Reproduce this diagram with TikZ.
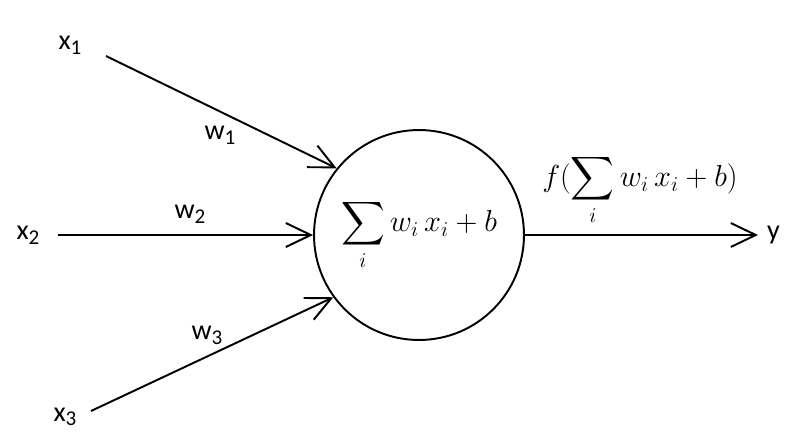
\documentclass[tikz,border=0pt]{standalone}
\usepackage{amsmath}
\usepackage{exscale}
\usepackage[no-math]{fontspec}
\setmainfont{Carlito}
\usetikzlibrary{arrows.meta, positioning}
\newcommand{\lblsub}[1]{\raisebox{-0.35ex}{\fontsize{12}{14}\selectfont #1}}
\tikzset{
  % neuron and labels
  neuron/.style={circle,draw,line width=1.1pt,minimum size=4.2cm,inner sep=0pt,font=\fontsize{17}{20}\selectfont},
  label in/.style={font=\fontsize{16}{19}\selectfont,inner sep=1pt},
  label w/.style={label in},
  label out/.style={font=\fontsize{17}{20}\selectfont,inner sep=0pt},
  % connections
  connect arrow/.style={-{Straight Barb[length=5mm,width=4.8mm]},line width=1.1pt}
}
\begin{document}
\begin{tikzpicture}[x=0.02cm,y=-0.02cm]
    \useasboundingbox (0,0) rectangle (812,440);
    \node[neuron] (neuron) at (419,235) {$\displaystyle\sum_i w_i\,x_i+b$};
    % inputs
    \node[label in] (x1) at (70,45) {x\lblsub{1}};
    \node[label in] (x2) at (28,235) {x\lblsub{2}};
    \node[label in] (x3) at (65,417) {x\lblsub{3}};
    \coordinate (in1) at (106,56);
    \coordinate (in2) at (58,235);
    \coordinate (in3) at (91,411);
    \draw[connect arrow] (in1) -- (neuron.141);
    \draw[connect arrow] (in2) -- (neuron);
    \draw[connect arrow] (in3) -- (neuron.216);
    \node[label w] (w1) at (220,135) {w\lblsub{1}};
    \node[label w] (w2) at (190,214) {w\lblsub{2}};
    \node[label w] (w3) at (207,335) {w\lblsub{3}};
    % output
    \node[label in,anchor=west,inner sep=5pt] (y) at (758,235) {y};
    \draw[connect arrow] (neuron) -- (y);
    \node[label out] (f) at (640,190) {$f(\displaystyle\sum_i w_i\,x_i+b)$};
\end{tikzpicture}
\end{document}
